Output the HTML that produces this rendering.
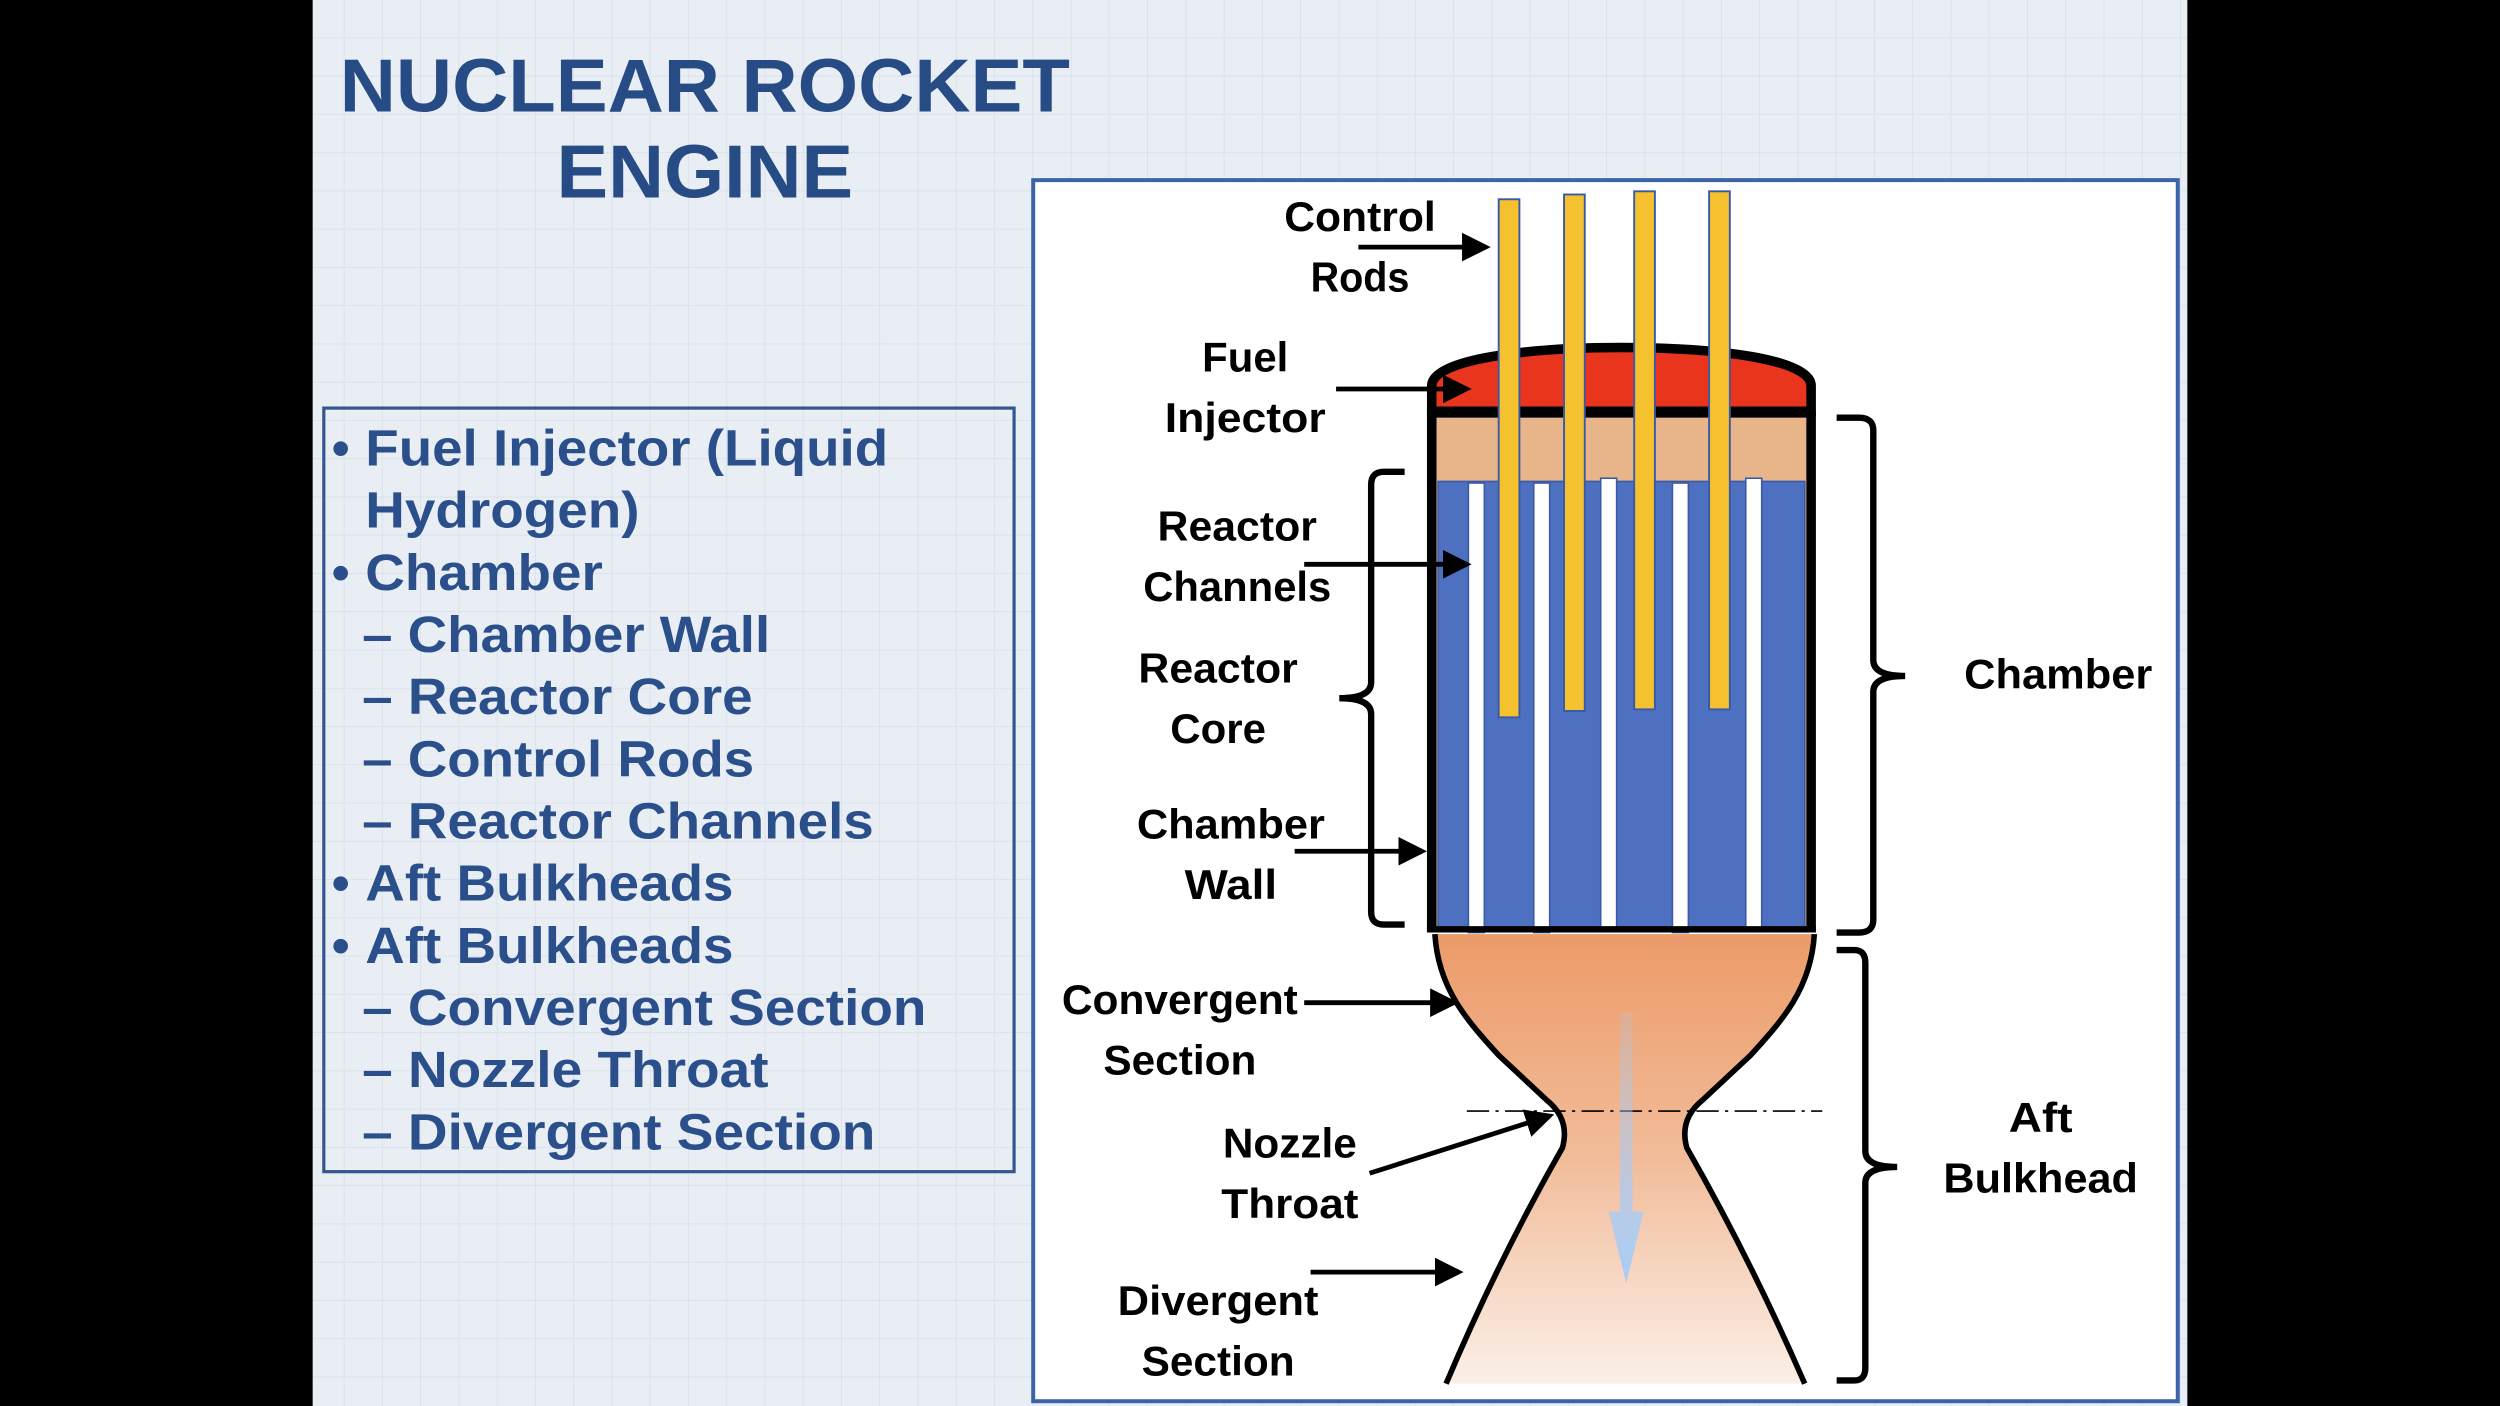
<!DOCTYPE html>
<html><head><meta charset="utf-8"><style>
html,body{margin:0;padding:0;background:#000;}
svg{display:block;}
</style></head><body>
<svg width="2500" height="1406" viewBox="0 0 1568 882" xmlns="http://www.w3.org/2000/svg">
<defs>
<pattern id="grid" width="24" height="24" patternUnits="userSpaceOnUse">
<rect width="24" height="24" fill="#e9eef4"/>
<path d="M24 0V24M0 24H24" stroke="#d6dfea" stroke-width="1"/>
</pattern>
<linearGradient id="noz" x1="0" y1="0" x2="0" y2="1">
<stop offset="0" stop-color="#ec9b68"/>
<stop offset="0.5" stop-color="#f2bc9a"/>
<stop offset="1" stop-color="#fbefe7"/>
</linearGradient>
<linearGradient id="flow" x1="0" y1="0" x2="0" y2="1">
<stop offset="0" stop-color="#a8c8f0" stop-opacity="0.2"/>
<stop offset="1" stop-color="#a8ccf7"/>
</linearGradient>
<marker id="ah" markerWidth="6" markerHeight="6" refX="5" refY="3" orient="auto" markerUnits="strokeWidth">
<path d="M0,0 L6,3 L0,6 z" fill="#000"/>
</marker>
</defs>
<rect x="0" y="0" width="1568" height="882" fill="#000"/>
<rect x="196" y="0" width="1176" height="882" fill="url(#grid)"/>

<g font-family="Liberation Sans, Arial, sans-serif" font-weight="bold" fill="#274b85">
<text x="442" y="70" font-size="47" text-anchor="middle" textLength="458" lengthAdjust="spacingAndGlyphs">NUCLEAR ROCKET</text>
<text x="442" y="124" font-size="47" text-anchor="middle" textLength="186" lengthAdjust="spacingAndGlyphs">ENGINE</text>
</g>

<rect x="203" y="256" width="433" height="479" fill="none" stroke="#34568f" stroke-width="2"/>
<g font-family="Liberation Sans, Arial, sans-serif" font-weight="bold" fill="#2b4f8b" font-size="32">
<text x="208" y="292">•</text><text x="229" y="292" textLength="328" lengthAdjust="spacingAndGlyphs">Fuel Injector (Liquid</text>
<text x="229" y="331" textLength="172" lengthAdjust="spacingAndGlyphs">Hydrogen)</text>
<text x="208" y="370">•</text><text x="229" y="370" textLength="149" lengthAdjust="spacingAndGlyphs">Chamber</text>
<text x="227" y="409" textLength="256" lengthAdjust="spacingAndGlyphs">– Chamber Wall</text>
<text x="227" y="448" textLength="245" lengthAdjust="spacingAndGlyphs">– Reactor Core</text>
<text x="227" y="487" textLength="246" lengthAdjust="spacingAndGlyphs">– Control Rods</text>
<text x="227" y="526" textLength="321" lengthAdjust="spacingAndGlyphs">– Reactor Channels</text>
<text x="208" y="565">•</text><text x="229" y="565" textLength="231" lengthAdjust="spacingAndGlyphs">Aft Bulkheads</text>
<text x="208" y="604">•</text><text x="229" y="604" textLength="231" lengthAdjust="spacingAndGlyphs">Aft Bulkheads</text>
<text x="227" y="643" textLength="354" lengthAdjust="spacingAndGlyphs">– Convergent Section</text>
<text x="227" y="682" textLength="255" lengthAdjust="spacingAndGlyphs">– Nozzle Throat</text>
<text x="227" y="721" textLength="322" lengthAdjust="spacingAndGlyphs">– Divergent Section</text>
</g>

<rect x="648" y="113" width="718" height="766" fill="#fff" stroke="#3a63a8" stroke-width="2.5"/>

<!-- nozzle -->
<path d="M900,586 C902,620 920,640 940,662 L970,690 Q985,702 980,720 Q940,790 907,868 L1132,868 Q1098,790 1058,720 Q1053,702 1068,690 L1098,662 C1118,640 1136,620 1138,586 Z" fill="url(#noz)"/>
<path d="M900,586 C902,620 920,640 940,662 L970,690 Q985,702 980,720 Q940,790 907,868" fill="none" stroke="#000" stroke-width="3.5"/>
<path d="M1138,586 C1136,620 1118,640 1098,662 L1068,690 Q1053,702 1058,720 Q1098,790 1132,868" fill="none" stroke="#000" stroke-width="3.5"/>
<line x1="920" y1="697" x2="1143" y2="697" stroke="#000" stroke-width="1" stroke-dasharray="14,4,2,4"/>
<path d="M1016,635 H1024 V760 H1031 L1020,805 L1009,760 H1016 Z" fill="url(#flow)"/>

<!-- chamber -->
<path d="M898,258 L898,242 C898,225 960,218 1017,218 C1075,218 1136,225 1136,242 L1136,258 Z" fill="#e9341e" stroke="#000" stroke-width="6"/>
<rect x="898" y="260" width="238" height="324" fill="#e8b58b"/>
<rect x="902" y="302" width="230" height="280" fill="#4e70c0" stroke="#3a5aa8" stroke-width="1"/>
<g fill="#fff" stroke="#3a5aa8" stroke-width="1">
<rect x="921" y="303" width="10" height="282"/>
<rect x="962" y="303" width="10" height="282"/>
<rect x="1004" y="300" width="10" height="282"/>
<rect x="1049" y="303" width="10" height="282"/>
<rect x="1095" y="300" width="10" height="282"/>
</g>
<path d="M898,260 V584 M1136,258 V584" stroke="#000" stroke-width="6"/>
<line x1="895" y1="583" x2="1139" y2="583" stroke="#000" stroke-width="4"/>
<line x1="898" y1="260" x2="1136" y2="260" stroke="#000" stroke-width="4"/>
<g fill="#f5c12e" stroke="#3a5aa8" stroke-width="1.2">
<rect x="940" y="125" width="13" height="325"/>
<rect x="981" y="122" width="13" height="324"/>
<rect x="1025" y="120" width="13" height="325"/>
<rect x="1072" y="120" width="13" height="325"/>
</g>

<!-- brackets -->
<g fill="none" stroke="#000" stroke-width="4">
<path d="M881,296 H868 Q860,296 860,304 V428 Q860,438 840,438 Q860,438 860,448 V572 Q860,580 868,580 H881"/>
<path d="M1152,262 H1166 Q1175,262 1175,270 V414 Q1175,424 1195,424 Q1175,424 1175,434 V577 Q1175,585 1166,585 H1152"/>
<path d="M1152,596 H1163 Q1170,596 1170,604 V722 Q1170,732 1190,732 Q1170,732 1170,742 V858 Q1170,866 1163,866 H1152"/>
</g>

<!-- arrows -->
<g stroke="#000" stroke-width="3" marker-end="url(#ah)">
<line x1="852" y1="155" x2="932" y2="155"/>
<line x1="838" y1="244" x2="920" y2="244"/>
<line x1="818" y1="354" x2="920" y2="354"/>
<line x1="812" y1="534" x2="892" y2="534"/>
<line x1="818" y1="629" x2="912" y2="629"/>
<line x1="859" y1="736" x2="972" y2="700"/>
<line x1="822" y1="798" x2="915" y2="798"/>
</g>

<g font-family="Liberation Sans, Arial, sans-serif" font-weight="bold" fill="#000" font-size="26" text-anchor="middle">
<text x="853" y="145" textLength="95" lengthAdjust="spacingAndGlyphs">Control</text>
<text x="853" y="183" textLength="62" lengthAdjust="spacingAndGlyphs">Rods</text>
<text x="781" y="233" textLength="54" lengthAdjust="spacingAndGlyphs">Fuel</text>
<text x="781" y="271" textLength="101" lengthAdjust="spacingAndGlyphs">Injector</text>
<text x="776" y="339" textLength="100" lengthAdjust="spacingAndGlyphs">Reactor</text>
<text x="776" y="377" textLength="118" lengthAdjust="spacingAndGlyphs">Channels</text>
<text x="764" y="428" textLength="100" lengthAdjust="spacingAndGlyphs">Reactor</text>
<text x="764" y="466" textLength="60" lengthAdjust="spacingAndGlyphs">Core</text>
<text x="772" y="526" textLength="118" lengthAdjust="spacingAndGlyphs">Chamber</text>
<text x="772" y="564" textLength="58" lengthAdjust="spacingAndGlyphs">Wall</text>
<text x="740" y="636" textLength="148" lengthAdjust="spacingAndGlyphs">Convergent</text>
<text x="740" y="674" textLength="96" lengthAdjust="spacingAndGlyphs">Section</text>
<text x="809" y="726" textLength="84" lengthAdjust="spacingAndGlyphs">Nozzle</text>
<text x="809" y="764" textLength="86" lengthAdjust="spacingAndGlyphs">Throat</text>
<text x="764" y="825" textLength="126" lengthAdjust="spacingAndGlyphs">Divergent</text>
<text x="764" y="863" textLength="96" lengthAdjust="spacingAndGlyphs">Section</text>
<text x="1291" y="432" textLength="118" lengthAdjust="spacingAndGlyphs">Chamber</text>
<text x="1280" y="710" textLength="40" lengthAdjust="spacingAndGlyphs">Aft</text>
<text x="1280" y="748" textLength="122" lengthAdjust="spacingAndGlyphs">Bulkhead</text>
</g>
</svg>
</body></html>
